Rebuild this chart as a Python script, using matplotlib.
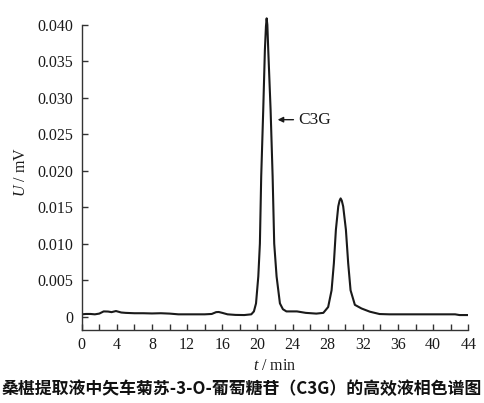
import matplotlib
matplotlib.use("Agg")
import matplotlib.pyplot as plt

plt.rcParams["mathtext.fontset"] = "custom"
plt.rcParams["mathtext.rm"] = "Liberation Serif"
plt.rcParams["mathtext.it"] = "Liberation Serif:italic"

# Chromatogram trace
time_min = [0.0, 0.5, 1.0, 1.5, 2.0, 2.5, 3.0, 3.4, 3.9, 4.5, 5.0, 6.0, 7.0, 8.0, 9.0,
            10.0, 11.0, 12.0, 13.0, 14.0, 14.8, 15.3, 15.6, 16.0, 16.6, 17.5, 18.5,
            19.3, 19.6, 19.84, 20.1, 20.28, 20.43, 20.66, 20.85, 20.97, 21.05, 21.13,
            21.23, 21.5, 21.73, 21.91, 22.18, 22.56, 22.9, 23.3, 24.0, 24.5, 25.5, 26.7,
            27.5, 28.05, 28.44, 28.7, 28.93, 29.2, 29.35, 29.47, 29.6, 29.76, 30.07,
            30.33, 30.6, 31.09, 31.85, 32.8, 33.9, 35.0, 37.0, 39.0, 41.0, 42.5, 43.0, 44.0]
signal_mv = [0.0003, 0.00035, 0.00035, 0.0003, 0.0004, 0.0007, 0.00068, 0.0006, 0.00075,
             0.00055, 0.0005, 0.00045, 0.00045, 0.00042, 0.00045, 0.0004, 0.0003, 0.0003,
             0.0003, 0.0003, 0.00035, 0.0006, 0.00062, 0.0005, 0.0003, 0.00022, 0.0002,
             0.0003, 0.0007, 0.0018, 0.0055, 0.0100, 0.0192, 0.0283, 0.0366, 0.0398, 0.0409,
             0.0400, 0.0366, 0.0283, 0.0192, 0.0100, 0.0055, 0.0018, 0.0010, 0.0007, 0.0007,
             0.0007, 0.0005, 0.0004, 0.0005, 0.0013, 0.0036, 0.0073, 0.0119, 0.0151, 0.0159,
             0.0162, 0.0159, 0.0151, 0.0119, 0.0073, 0.0036, 0.0016, 0.0011, 0.00066,
             0.00034, 0.0003, 0.0003, 0.0003, 0.0003, 0.0003, 0.0002, 0.0002]

x_ticks = [0, 4, 8, 12, 16, 20, 24, 28, 32, 36, 40, 44]
x_minor = [2, 6, 10, 14, 18, 22, 26, 30, 34, 38, 42]
y_ticks = [0, 0.005, 0.010, 0.015, 0.020, 0.025, 0.030, 0.035, 0.040]
y_labels = ["0", "0.005", "0.010", "0.015", "0.020", "0.025", "0.030", "0.035", "0.040"]

peak_label = "C3G"
peak_label_pos = (24.6, 0.0270)
arrow_tail = (24.1, 0.0270)
arrow_head = (22.3, 0.0270)
caption = "桑椹提取液中矢车菊苏-3-O-葡萄糖苷（C3G）的高效液相色谱图"

serif = ["Liberation Serif", "DejaVu Serif"]

fig = plt.figure(figsize=(4.84, 4.03), dpi=100)
ax = fig.add_axes([81.7 / 484, 1 - 330 / 403, (468.3 - 81.7) / 484, (330 - 15) / 403])

ax.plot(time_min, signal_mv, color="#1a1a1a", lw=1.5, solid_joinstyle="round")

ax.set_xlim(0, 44)
ax.set_ylim(-0.00185, 0.04136)
for s in ["top", "right"]:
    ax.spines[s].set_visible(False)
ax.spines["left"].set_bounds(-0.00185, 0.040)
for s in ["left", "bottom"]:
    ax.spines[s].set_color("#333333")
    ax.spines[s].set_linewidth(1.0)

ax.set_xticks(x_ticks)
ax.set_xticklabels([str(v) for v in x_ticks], fontfamily=serif, fontsize=11.5)
ax.set_xticks(x_minor, minor=True)
ax.set_yticks(y_ticks)
ax.set_yticklabels(y_labels, fontfamily=serif, fontsize=11.5)
ax.tick_params(axis="both", which="both", direction="in", length=4, width=1.0,
               color="#333333", labelcolor="#1a1a1a")
ax.tick_params(axis="x", which="major", pad=5)
ax.tick_params(axis="y", which="major", pad=6)

ax.set_xlabel("$\\it{t}$ / min", fontfamily=serif, fontsize=11.5, color="#1a1a1a", labelpad=4)
ax.set_ylabel("$\\it{U}$ / mV", fontfamily=serif, fontsize=11.5, color="#1a1a1a", labelpad=6)

ax.annotate("", xy=arrow_head, xytext=arrow_tail,
            arrowprops=dict(arrowstyle="-|>", color="#1a1a1a", lw=1.0,
                            mutation_scale=8, shrinkA=0, shrinkB=0))
ax.text(peak_label_pos[0], peak_label_pos[1], peak_label, fontfamily=serif,
        fontsize=12.5, va="center", ha="left", color="#1a1a1a")

cap = fig.text(0.5, 1 - 389 / 403, caption, ha="center", va="center",
               fontfamily=["Noto Sans CJK SC", "DejaVu Sans"], fontweight="bold",
               fontsize=12.0, color="#111111")
# shrink the caption so it spans the figure width like the reference
renderer = fig.canvas.get_renderer()
w = cap.get_window_extent(renderer).width
target = 480.0
cap.set_fontsize(12.0 * target / w)

fig.savefig("out.png", dpi=100, facecolor="white")
